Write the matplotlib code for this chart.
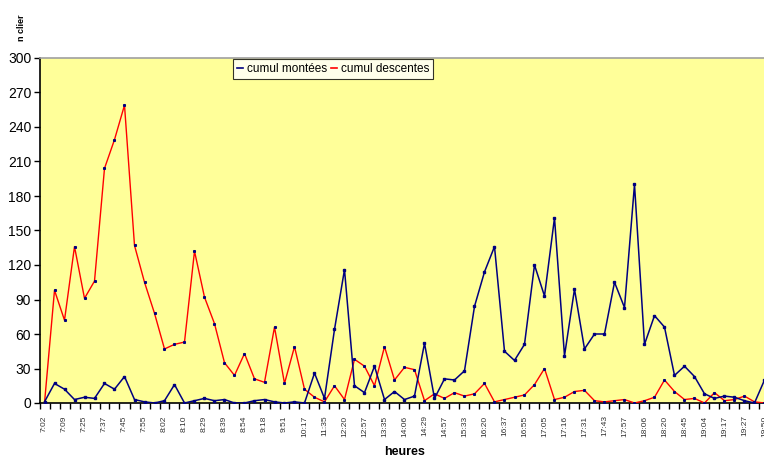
import matplotlib
matplotlib.use("Agg")
import matplotlib.pyplot as plt
from matplotlib.lines import Line2D
import numpy as np

plt.rcParams["font.family"] = ["Liberation Sans", "DejaVu Sans"]

# -----------------------------------------------------------------------------
# Data
# -----------------------------------------------------------------------------

# labels are only shown on every other category
time_labels = [
    "7:02", "7:09", "7:25", "7:37", "7:45", "7:55", "8:02", "8:10", "8:29",
    "8:39", "8:54", "9:18", "9:51", "10:17", "11:35", "12:20", "12:57",
    "13:35", "14:06", "14:29", "14:57", "15:33", "16:20", "16:37", "16:55",
    "17:05", "17:16", "17:31", "17:43", "17:57", "18:06", "18:20", "18:45",
    "19:04", "19:17", "19:27", "19:50",
]

montees = [
    1, 17, 12, 3, 5, 4, 17, 12, 23, 3, 1, 0, 2, 16, 0, 2, 4, 2, 3, 0,
    0, 2, 3, 1, 0, 1, 0, 26, 4, 64, 116, 15, 9, 32, 3, 10, 3, 6, 52, 4,
    21, 20, 28, 84, 114, 136, 45, 37, 51, 120, 93, 161, 41, 99, 47, 60,
    60, 105, 83, 190, 51, 76, 66, 24, 32, 23, 8, 4, 6, 5, 2, 0, 20,
]

descentes = [
    0, 98, 72, 136, 91, 106, 204, 229, 259, 137, 105, 78, 47, 51, 53, 132,
    92, 69, 35, 24, 43, 21, 18, 66, 17, 49, 12, 5, 1, 15, 3, 38, 32, 15,
    49, 20, 31, 29, 2, 8, 4, 9, 6, 8, 17, 1, 3, 5, 7, 16, 30, 3, 5, 10,
    11, 2, 1, 2, 3, 0, 2, 5, 20, 10, 3, 4, 0, 9, 2, 3, 6, 1, 0,
]

y_ticks = list(range(0, 301, 30))

# -----------------------------------------------------------------------------
# Style
# -----------------------------------------------------------------------------

_BG = "#FFFF99"
_BLUE = "#000080"
_RED = "#FF0000"

W, H = 764, 457
fig = plt.figure(figsize=(W / 100, H / 100), dpi=100)
fig.patch.set_facecolor("white")

# plot area runs past the right edge of the image, as in the reference
left, right, top, bottom = 39.5, 769.5, 58, 403
ax = fig.add_axes([left / W, 1 - bottom / H, (right - left) / W, (bottom - top) / H])
ax.set_facecolor(_BG)

n = len(montees)
x = np.arange(n)

ax.plot(x, descentes, color=_RED, lw=1.0, marker="s", ms=1.2,
        mfc=_BLUE, mec=_BLUE, zorder=3)
ax.plot(x, montees, color=_BLUE, lw=1.1, marker="s", ms=2.0,
        mfc=_BLUE, mec=_BLUE, zorder=4)

ax.set_xlim(-0.5, n - 0.5)
ax.set_ylim(0, 300)

ax.set_yticks(y_ticks)
ax.tick_params(axis="y", direction="out", length=4, width=1, labelsize=10,
               pad=2, colors="black")

# boundary ticks (every category) + labels on every other category centre
ax.set_xticks(np.arange(-0.5, n + 0.5, 1.0))
ax.set_xticklabels([])
ax.tick_params(axis="x", which="major", direction="out", length=4, width=1)
label_pos = np.arange(0, 2 * len(time_labels), 2)
ax.set_xticks(label_pos, minor=True)
ax.set_xticklabels(time_labels, minor=True, rotation=90, fontsize=6,
                   color="#333333", va="top")
ax.tick_params(axis="x", which="minor", length=0, pad=9)

for side in ("left", "bottom"):
    ax.spines[side].set_color("black")
    ax.spines[side].set_linewidth(1.2)
ax.spines["top"].set_color("#A0A0A0")
ax.spines["top"].set_linewidth(1.2)
ax.spines["right"].set_visible(False)

fig.text(405 / W, 1 - 452 / H, "heures", ha="center", va="center",
         fontsize=9, fontweight="bold")
fig.text(22 / W, 1 - 28 / H, "n clier", ha="center", va="center",
         rotation=90, fontsize=6.5, fontweight="bold")

handles = [
    Line2D([], [], color=_BLUE, lw=1.2),
    Line2D([], [], color=_RED, lw=1.2),
]
leg = fig.legend(handles, ["cumul montées", "cumul descentes"], ncol=2,
                 loc="upper left", bbox_to_anchor=(233 / W, 1 - 59 / H),
                 fontsize=8.5, frameon=True, fancybox=False,
                 handlelength=0.5, handletextpad=0.3, columnspacing=0.4,
                 borderpad=0.35, borderaxespad=0)
leg.get_frame().set_edgecolor("black")
leg.get_frame().set_linewidth(0.8)
leg.get_frame().set_facecolor("white")

fig.savefig("out.png", dpi=100, facecolor="white")
